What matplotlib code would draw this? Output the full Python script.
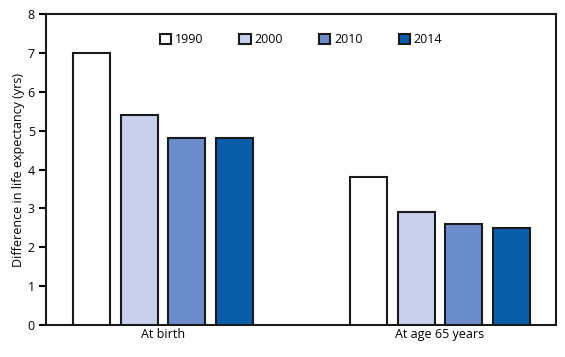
import matplotlib
matplotlib.use("Agg")
import matplotlib.pyplot as plt
import numpy as np

plt.rcParams['font.family'] = ['Open Sans', 'DejaVu Sans']

categories = ["At birth", "At age 65 years"]
years = ["1990", "2000", "2010", "2014"]
values = {
    "1990": [7.0, 3.8],
    "2000": [5.4, 2.9],
    "2010": [4.8, 2.6],
    "2014": [4.8, 2.5],
}
colors = ["#ffffff", "#c8d0ee", "#6d8ccc", "#0b5ca8"]

fig = plt.figure(figsize=(5.65, 3.57), dpi=100)
ax = fig.add_axes([0.0814, 0.0896, 0.9026, 0.8712])

x = np.arange(len(categories))
width = 0.134
step = 0.1715
for i, (yr, c) in enumerate(zip(years, colors)):
    offs = (i - 1.5) * step
    ax.bar(x + offs, values[yr], width, color=c, edgecolor="#1a1a1a",
           linewidth=1.5, label=yr, zorder=3)

ax.set_xlim(-0.422, 1.419)
ax.set_ylim(0, 8)
ax.set_yticks(range(0, 9))
ax.set_xticks(x)
ax.set_xticklabels(categories, fontsize=9)
ax.tick_params(axis='x', length=0, pad=2)
ax.tick_params(axis='y', length=5, width=1.5, labelsize=9, pad=3)
for s in ax.spines.values():
    s.set_linewidth(1.5)
    s.set_color("#1a1a1a")
ax.set_ylabel("Difference in life expectancy (yrs)", fontsize=9, labelpad=2)

leg = ax.legend(ncol=4, loc="upper center", bbox_to_anchor=(0.5, 0.975),
                frameon=False, fontsize=9, handlelength=0.9, handleheight=0.9,
                handletextpad=0.3, columnspacing=2.9)

fig.savefig("out.png", dpi=100)
